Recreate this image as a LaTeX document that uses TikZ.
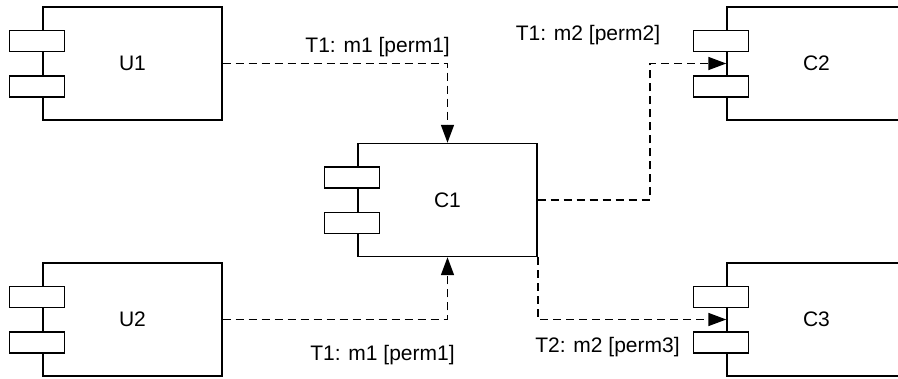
\documentclass[tikz,border=0pt]{standalone}
\usepackage{fontspec}
\setmainfont{Liberation Sans}
\usetikzlibrary{arrows.meta,calc}
\begin{document}
\begin{tikzpicture}[x=1pt,y=-1pt,
  comp/.style={draw, line width=1.4pt, minimum width=179pt, minimum height=113pt, inner sep=0pt, font=\fontsize{21}{25}\selectfont},
  port/.style={draw, fill=white, line width=1.4pt, minimum width=55pt, minimum height=21pt, inner sep=0pt},
  link/.style={line width=1.6pt, dash pattern=on 8pt off 5pt, -{Triangle[length=18pt,width=13pt]}},
  lbl/.style={font=\fontsize{21}{25}\selectfont, inner sep=0pt}]
\clip (0,0) rectangle (898,378);
\node[comp] (U1) at (132.5,63.5) {U1};
\node[comp] (U2) at (132.5,319.5) {U2};
\node[comp] (C1) at (447.5,200) {C1};
\node[comp] (C2) at (816.5,63.5) {C2};
\node[comp] (C3) at (816.5,319.5) {C3};
\foreach \n in {U1,U2,C1,C2,C3} {
  \node[port] (\n-a) at ($(\n.west)+(-5.5,-22.5)$) {};
  \node[port] (\n-b) at ($(\n.west)+(-5.5,23)$) {};
}
\coordinate (bend2) at (650,200);
\draw[link] (U1.east) -| (C1.north);
\draw[link] (U2.east) -| (C1.south);
\draw[link] (C1.east) -- (bend2) |- (C2.west);
\draw[link] (C1.south east) |- (C3.west);
\node[lbl, anchor=east] (L1) at (450,47) {T1: m1 [perm1]};
\node[lbl] (L2) at (382.5,355) {T1: m1 [perm1]};
\node[lbl] (L3) at (588,35) {T1: m2 [perm2]};
\node[lbl] (L4) at (607.5,347) {T2: m2 [perm3]};
\end{tikzpicture}
\end{document}
